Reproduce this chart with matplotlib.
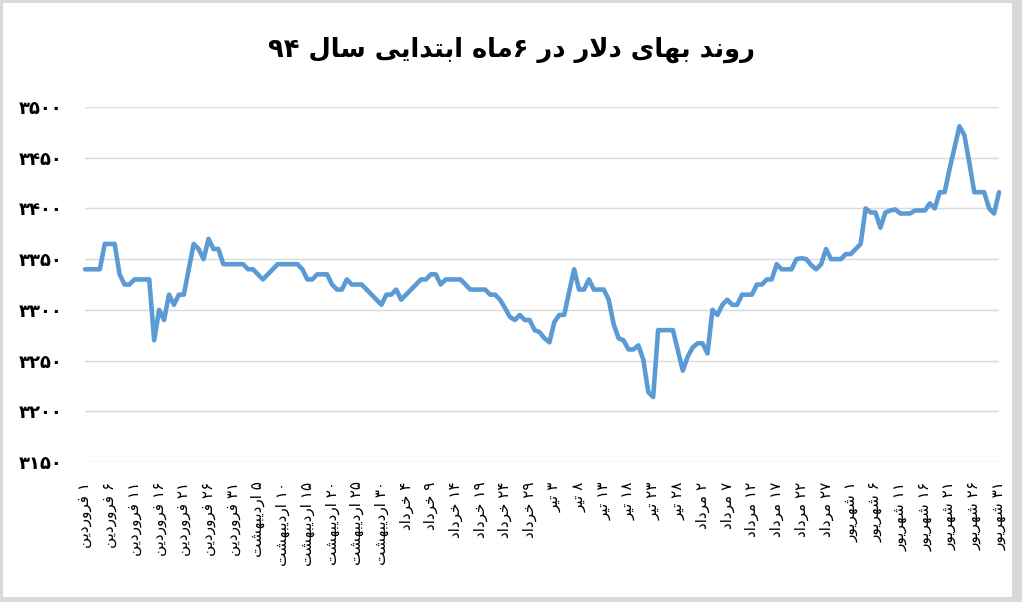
import matplotlib
matplotlib.use("Agg")
import matplotlib.pyplot as plt
from matplotlib.ticker import FuncFormatter, FixedLocator
from matplotlib.patches import Rectangle

# ---------------- data ----------------
title_text = "روند بهای دلار در ۶ماه ابتدایی سال ۹۴"

# daily dollar price (rial x10), 1 Farvardin .. 31 Shahrivar 1394 (186 days)
prices = [
    3340, 3340, 3340, 3340, 3365, 3365, 3365, 3335, 3325, 3325,
    3330, 3330, 3330, 3330, 3270, 3300, 3290, 3315, 3305, 3315,
    3315, 3340, 3365, 3360, 3350, 3370, 3360, 3360, 3345, 3345,
    3345, 3345, 3345, 3340, 3340, 3335, 3330, 3335, 3340, 3345,
    3345, 3345, 3345, 3345, 3340, 3330, 3330, 3335, 3335, 3335,
    3325, 3320, 3320, 3330, 3325, 3325, 3325, 3320, 3315, 3310,
    3305, 3315, 3315, 3320, 3310, 3315, 3320, 3325, 3330, 3330,
    3335, 3335, 3325, 3330, 3330, 3330, 3330, 3325, 3320, 3320,
    3320, 3320, 3315, 3315, 3310, 3302, 3293, 3290, 3295, 3290,
    3290, 3280, 3278, 3272, 3268, 3288, 3295, 3295, 3318, 3340,
    3320, 3320, 3330, 3320, 3320, 3320, 3310, 3286, 3272, 3270,
    3261, 3261, 3265, 3251, 3219, 3214, 3280, 3280, 3280, 3280,
    3260, 3240, 3254, 3263, 3267, 3267, 3257, 3300, 3295, 3305,
    3310, 3305, 3305, 3315, 3315, 3315, 3325, 3325, 3330, 3330,
    3345, 3340, 3340, 3340, 3350, 3351, 3350, 3344, 3340, 3345,
    3360, 3350, 3350, 3350, 3355, 3355, 3360, 3365, 3400, 3396,
    3396, 3381, 3396, 3398, 3399, 3395, 3395, 3395, 3398, 3398,
    3398, 3405, 3400, 3416, 3416, 3439, 3460, 3481, 3472, 3445,
    3416, 3416, 3416, 3400, 3395, 3416,
]

tick_labels = [
    "۱ فروردین", "۶ فروردین", "۱۱ فروردین", "۱۶ فروردین", "۲۱ فروردین",
    "۲۶ فروردین", "۳۱ فروردین",
    "۵ اردیبهشت", "۱۰ اردیبهشت", "۱۵ اردیبهشت", "۲۰ اردیبهشت",
    "۲۵ اردیبهشت", "۳۰ اردیبهشت",
    "۴ خرداد", "۹ خرداد", "۱۴ خرداد", "۱۹ خرداد", "۲۴ خرداد", "۲۹ خرداد",
    "۳ تیر", "۸ تیر", "۱۳ تیر", "۱۸ تیر", "۲۳ تیر", "۲۸ تیر",
    "۲ مرداد", "۷ مرداد", "۱۲ مرداد", "۱۷ مرداد", "۲۲ مرداد", "۲۷ مرداد",
    "۱ شهریور", "۶ شهریور", "۱۱ شهریور", "۱۶ شهریور", "۲۱ شهریور",
    "۲۶ شهریور", "۳۱ شهریور",
]
tick_step = 5
y_ticks = [3150, 3200, 3250, 3300, 3350, 3400, 3450, 3500]

# ------------- Arabic-script shaping (presentation forms + RTL order) -------------
FORMS = {
    '\u0627': ('\uFE8D', '\uFE8E', None, None),
    '\u0628': ('\uFE8F', '\uFE90', '\uFE91', '\uFE92'),
    '\u062A': ('\uFE95', '\uFE96', '\uFE97', '\uFE98'),
    '\u062E': ('\uFEA5', '\uFEA6', '\uFEA7', '\uFEA8'),
    '\u062F': ('\uFEA9', '\uFEAA', None, None),
    '\u0631': ('\uFEAD', '\uFEAE', None, None),
    '\u0633': ('\uFEB1', '\uFEB2', '\uFEB3', '\uFEB4'),
    '\u0634': ('\uFEB5', '\uFEB6', '\uFEB7', '\uFEB8'),
    '\u0641': ('\uFED1', '\uFED2', '\uFED3', '\uFED4'),
    '\u0644': ('\uFEDD', '\uFEDE', '\uFEDF', '\uFEE0'),
    '\u0645': ('\uFEE1', '\uFEE2', '\uFEE3', '\uFEE4'),
    '\u0646': ('\uFEE5', '\uFEE6', '\uFEE7', '\uFEE8'),
    '\u0647': ('\uFEE9', '\uFEEA', '\uFEEB', '\uFEEC'),
    '\u0648': ('\uFEED', '\uFEEE', None, None),
    '\u06CC': ('\uFBFC', '\uFBFD', '\uFBFE', '\uFBFF'),
}
DIGITS = set("۰۱۲۳۴۵۶۷۸۹0123456789")


def rtl(s):
    out = []
    n = len(s)
    i = 0
    while i < n:
        c = s[i]
        if c in FORMS:
            p = s[i - 1] if i > 0 else ''
            jp = p in FORMS and FORMS[p][2] is not None
            if c == '\u0644' and i + 1 < n and s[i + 1] == '\u0627':
                out.append('\uFEFC' if jp else '\uFEFB')
                i += 2
                continue
            f = FORMS[c]
            jn = f[2] is not None and i + 1 < n and s[i + 1] in FORMS
            if jp and jn:
                g = f[3]
            elif jp:
                g = f[1]
            elif jn:
                g = f[2]
            else:
                g = f[0]
            out.append(g)
        else:
            out.append(c)
        i += 1
    r = out[::-1]
    res, run = [], []
    for g in r:
        if g in DIGITS:
            run.append(g)
        else:
            if run:
                res.extend(run[::-1])
                run = []
            res.append(g)
    if run:
        res.extend(run[::-1])
    return ''.join(res)


def fa_digits(v):
    return ''.join("۰۱۲۳۴۵۶۷۸۹"[int(ch)] if ch.isdigit() else ch for ch in str(v))


# ---------------- figure ----------------
W, H = 1022, 602
fig = plt.figure(figsize=(W / 100, H / 100), dpi=100, facecolor="#d9d9d9")
fig.patches.append(Rectangle((3 / W, 5 / H), (1012 - 3) / W, (599 - 5) / H,
                             transform=fig.transFigure, facecolor="white",
                             edgecolor="none", zorder=-5))

left, right, top, bottom = 85, 999, 107, 462
ax = fig.add_axes([left / W, 1 - bottom / H, (right - left) / W, (bottom - top) / H])
ax.set_facecolor("none")
ax.set_zorder(2)

days = list(range(len(prices)))
ax.plot(days, prices, color="#5B9BD5", lw=3.3, solid_joinstyle="round",
        solid_capstyle="round", zorder=3, clip_on=False)

ax.set_xlim(0, len(prices) - 1)
ax.set_ylim(y_ticks[0], y_ticks[-1])
ax.yaxis.set_major_locator(FixedLocator(y_ticks))
ax.yaxis.set_major_formatter(FuncFormatter(lambda v, p: fa_digits(int(round(v)))))
ax.grid(axis="y", color="#d9d9d9", lw=1.0, zorder=0)
ax.set_axisbelow(True)
for sp in ax.spines.values():
    sp.set_visible(False)

xt = list(range(0, len(prices), tick_step))
ax.set_xticks(xt)
ax.set_xticklabels([rtl(t) for t in tick_labels], rotation=90, fontsize=11,
                   family="DejaVu Sans", va="top", ha="center")
ax.tick_params(axis="x", length=0, pad=14)
ax.tick_params(axis="y", length=0, pad=16, labelsize=13)
for lab in ax.get_yticklabels():
    lab.set_fontweight("bold")

fig.text(0.5, 1 - 50 / H, rtl(title_text), ha="center", va="center",
         fontsize=18.5, fontweight="bold", family="DejaVu Sans")

fig.savefig("out.png", dpi=100, facecolor=fig.get_facecolor())
